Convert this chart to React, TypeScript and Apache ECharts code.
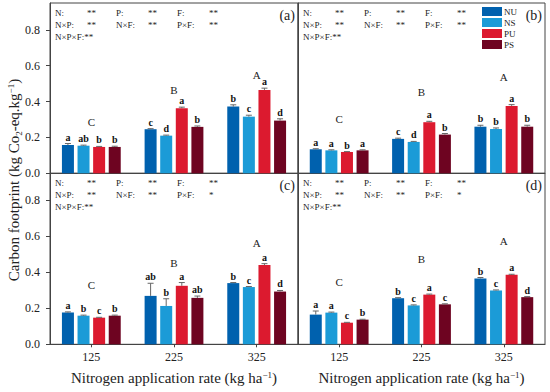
import React, { useEffect, useRef } from "react";
import * as echarts from "echarts";

const categories = ["125", "225", "325"];
const seriesNames = ["NU", "NS", "PU", "PS"];
const seriesColors = ["#0061AE", "#1B9BD7", "#DC1A2F", "#6E0421"];

// Panel (a)
const valuesA = [
  [0.158, 0.246, 0.372],
  [0.154, 0.21, 0.316],
  [0.147, 0.363, 0.465],
  [0.147, 0.259, 0.294],
];
const errorsA = [
  [0.008, 0.003, 0.01],
  [0.003, 0.003, 0.008],
  [0.003, 0.006, 0.01],
  [0.004, 0.005, 0.01],
];
const lettersA = [
  ["a", "c", "b"],
  ["ab", "d", "c"],
  ["b", "a", "a"],
  ["b", "b", "d"],
];
const groupLevelA = [0.287, 0.465, 0.549];

// Panel (b)
const valuesB = [
  [0.134, 0.192, 0.26],
  [0.128, 0.175, 0.247],
  [0.119, 0.285, 0.376],
  [0.128, 0.216, 0.26],
];
const errorsB = [
  [0.003, 0.004, 0.008],
  [0.003, 0.003, 0.006],
  [0.002, 0.005, 0.007],
  [0.003, 0.006, 0.008],
];
const lettersB = [
  ["a", "c", "b"],
  ["a", "d", "b"],
  ["b", "a", "a"],
  ["a", "b", "b"],
];
const groupLevelB = [0.303, 0.456, 0.536];

// Panel (c)
const valuesC = [
  [0.176, 0.269, 0.34],
  [0.159, 0.213, 0.318],
  [0.148, 0.325, 0.44],
  [0.159, 0.258, 0.293],
];
const errorsC = [
  [0.004, 0.07, 0.003],
  [0.003, 0.04, 0.003],
  [0.002, 0.018, 0.008],
  [0.003, 0.01, 0.006],
];
const lettersC = [
  ["a", "ab", "b"],
  ["b", "b", "c"],
  ["c", "a", "a"],
  ["b", "ab", "d"],
];
const groupLevelC = [0.33, 0.453, 0.563];

// Panel (d)
const valuesD = [
  [0.165, 0.256, 0.366],
  [0.176, 0.216, 0.299],
  [0.12, 0.276, 0.386],
  [0.137, 0.222, 0.262],
];
const errorsD = [
  [0.02, 0.003, 0.005],
  [0.003, 0.003, 0.003],
  [0.002, 0.003, 0.003],
  [0.002, 0.003, 0.003],
];
const lettersD = [
  ["a", "b", "b"],
  ["a", "c", "c"],
  ["c", "a", "a"],
  ["b", "c", "d"],
];
const groupLevelD = [0.347, 0.474, 0.576];

const groupLetters = ["C", "B", "A"];
const panelLabels = ["(a)", "(b)", "(c)", "(d)"];
const anovaAB = [
  ["N:", "**", "P:", "**", "F:", "**"],
  ["N×P:", "**", "N×F:", "**", "P×F:", "**"],
  ["N×P×F:**"],
];
const anovaCD = [
  ["N:", "**", "P:", "**", "F:", "**"],
  ["N×P:", "**", "N×F:", "**", "P×F:", "*"],
  ["N×P×F:**"],
];
const yTickValues = [0, 0.2, 0.4, 0.6, 0.8];

const FONT = "Liberation Serif";
const BAR_W = 12;
const BAR_GAP = 3.6;

const grids = [
  { left: 50, top: 3, width: 248, height: 170.3 },
  { left: 298, top: 3, width: 247, height: 170.3 },
  { left: 50, top: 173.3, width: 248, height: 171 },
  { left: 298, top: 173.3, width: 247, height: 171 },
];

export default function App() {
  const ref = useRef<HTMLDivElement>(null);
  useEffect(() => {
    if (!ref.current) return;
    const chart = echarts.init(ref.current, null, { renderer: "svg" });
    const panels = [
      { v: valuesA, e: errorsA, l: lettersA, g: groupLevelA, anova: anovaAB },
      { v: valuesB, e: errorsB, l: lettersB, g: groupLevelB, anova: anovaAB },
      { v: valuesC, e: errorsC, l: lettersC, g: groupLevelC, anova: anovaCD },
      { v: valuesD, e: errorsD, l: lettersD, g: groupLevelD, anova: anovaCD },
    ];
    const series: any[] = [];
    const graphics: any[] = [];
    panels.forEach((p, pi) => {
      seriesNames.forEach((name, si) => {
        series.push({
          type: "bar",
          name,
          xAxisIndex: pi,
          yAxisIndex: pi,
          data: p.v[si],
          barWidth: BAR_W,
          barGap: "30%",
          itemStyle: { color: seriesColors[si] },
          z: 2,
        });
        const offset = (si - 1.5) * (BAR_W + BAR_GAP);
        series.push({
          type: "custom",
          xAxisIndex: pi,
          yAxisIndex: pi,
          z: 5,
          encode: { x: 0, y: 1 },
          data: p.v[si].map((val, ci) => [ci, val, p.e[si][ci]]),
          renderItem: (params: any, api: any) => {
            const ci = api.value(0);
            const val = api.value(1);
            const err = api.value(2);
            const base = api.coord([ci, val]);
            const top = api.coord([ci, val + err]);
            const x = base[0] + offset;
            return {
              type: "group",
              children: [
                {
                  type: "line",
                  shape: { x1: x, y1: base[1], x2: x, y2: top[1] },
                  style: { stroke: "#666", lineWidth: 1 },
                },
                {
                  type: "line",
                  shape: { x1: x - 3, y1: top[1], x2: x + 3, y2: top[1] },
                  style: { stroke: "#666", lineWidth: 1 },
                },
                {
                  type: "text",
                  x,
                  y: top[1] - 1.5,
                  style: {
                    text: p.l[si][params.dataIndex],
                    fontSize: 10,
                    fontWeight: "bold",
                    fontFamily: FONT,
                    fill: "#111",
                    align: "center",
                    verticalAlign: "bottom",
                  },
                },
              ],
            };
          },
        });
      });
      series.push({
        type: "custom",
        xAxisIndex: pi,
        yAxisIndex: pi,
        z: 5,
        encode: { x: 0, y: 1 },
        data: p.g.map((lv, ci) => [ci, lv]),
        renderItem: (params: any, api: any) => {
          const pt = api.coord([api.value(0), api.value(1)]);
          return {
            type: "text",
            x: pt[0],
            y: pt[1],
            style: {
              text: groupLetters[params.dataIndex],
              fontSize: 11,
              fontFamily: FONT,
              fill: "#222",
              align: "center",
              verticalAlign: "middle",
            },
          };
        },
      });
      // ANOVA annotations
      const g = grids[pi];
      const colX = [5, 37, 66, 98, 127, 159];
      const rowY = [10, 22, 34];
      p.anova.forEach((row, ri) => {
        row.forEach((txt, ti) => {
          graphics.push({
            type: "text",
            x: g.left + colX[ti],
            y: g.top + rowY[ri],
            style: {
              text: txt,
              fontSize: 9,
              fontFamily: FONT,
              fill: "#222",
              verticalAlign: "middle",
            },
          });
        });
      });
      graphics.push({
        type: "text",
        x: g.left + g.width - 3,
        y: g.top + 12,
        style: {
          text: panelLabels[pi],
          fontSize: 14,
          fontFamily: FONT,
          fill: "#222",
          align: "right",
          verticalAlign: "middle",
        },
      });
    });
    graphics.push({
      type: "text",
      x: 14,
      y: 180,
      rotation: Math.PI / 2,
      style: {
        text: "Carbon footprint (kg Co{sub|2}-eq.kg{sup|−1})",
        fontSize: 15,
        fontFamily: FONT,
        fill: "#222",
        align: "center",
        verticalAlign: "middle",
        rich: {
          sub: { fontSize: 9, fontFamily: FONT, fill: "#222", verticalAlign: "bottom", padding: [0, 0, -2, 0] },
          sup: { fontSize: 9, fontFamily: FONT, fill: "#222", verticalAlign: "top" },
        },
      },
    });

    const option: any = {
      animation: false,
      backgroundColor: "#fff",
      textStyle: { fontFamily: FONT },
      grid: grids.map((g) => ({ ...g, show: true, borderColor: "#444", borderWidth: 1, containLabel: false })),
      legend: {
        data: seriesNames,
        orient: "vertical",
        left: 482,
        top: 7,
        padding: 0,
        itemWidth: 20,
        itemHeight: 9,
        itemGap: 2,
        icon: "rect",
        textStyle: { fontSize: 9, fontFamily: FONT, color: "#222", padding: [0, 0, 0, -3] },
      },
      xAxis: grids.map((_, i) => {
        const bottom = i >= 2;
        return {
          type: "category",
          gridIndex: i,
          data: categories,
          axisLine: { show: true, lineStyle: { color: "#444" } },
          axisTick: { show: bottom, alignWithLabel: true, length: 3, lineStyle: { color: "#444" } },
          axisLabel: { show: bottom, fontSize: 12, fontFamily: FONT, color: "#222", margin: 7 },
          splitLine: { show: false },
          name: bottom ? "Nitrogen application rate (kg ha{sup|−1})" : "",
          nameLocation: "middle",
          nameGap: 26,
          nameTextStyle: {
            fontSize: 15,
            fontFamily: FONT,
            color: "#222",
            rich: { sup: { fontSize: 9, fontFamily: FONT, color: "#222", verticalAlign: "top" } },
          },
        };
      }),
      yAxis: grids.map((_, i) => {
        const left = i % 2 === 0;
        return {
          type: "value",
          gridIndex: i,
          min: 0,
          max: 0.95,
          interval: 0.2,
          splitLine: { show: false },
          axisLine: { show: true, lineStyle: { color: "#444" } },
          axisTick: { show: left, length: 4, customValues: yTickValues, lineStyle: { color: "#444" } },
          axisLabel: {
            show: left,
            customValues: yTickValues,
            fontSize: 12,
            fontFamily: FONT,
            color: "#222",
            margin: 10,
            formatter: (v: number) => (v > 0.85 ? "" : v.toFixed(1)),
          },
        };
      }),
      series,
      graphic: graphics,
    };
    chart.setOption(option);
    return () => chart.dispose();
  }, []);
  return (
    <div
      ref={ref}
      style={{ position: "absolute", left: 0, top: 0, width: 550, height: 392, background: "#fff" }}
    />
  );
}
